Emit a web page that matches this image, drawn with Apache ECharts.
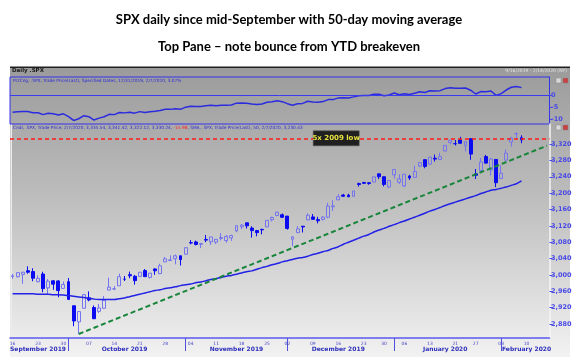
<!DOCTYPE html>
<html><head><meta charset="utf-8">
<script src="https://cdn.jsdelivr.net/npm/echarts@6/dist/echarts.min.js"></script>
<style>html,body{margin:0;padding:0;background:#fff}#c{width:578px;height:361px}</style>
</head><body><div id="c"></div>
<script>
// Trading days shown on the axis (Sep 16 2019 - Feb 14 2020)
const dates = [
'2019-09-16','2019-09-17','2019-09-18','2019-09-19','2019-09-20','2019-09-23','2019-09-24','2019-09-25','2019-09-26','2019-09-27','2019-09-30',
'2019-10-01','2019-10-02','2019-10-03','2019-10-04','2019-10-07','2019-10-08','2019-10-09','2019-10-10','2019-10-11','2019-10-14','2019-10-15','2019-10-16','2019-10-17','2019-10-18','2019-10-21','2019-10-22','2019-10-23','2019-10-24','2019-10-25','2019-10-28','2019-10-29','2019-10-30','2019-10-31',
'2019-11-01','2019-11-04','2019-11-05','2019-11-06','2019-11-07','2019-11-08','2019-11-11','2019-11-12','2019-11-13','2019-11-14','2019-11-15','2019-11-18','2019-11-19','2019-11-20','2019-11-21','2019-11-22','2019-11-25','2019-11-26','2019-11-27','2019-11-29',
'2019-12-02','2019-12-03','2019-12-04','2019-12-05','2019-12-06','2019-12-09','2019-12-10','2019-12-11','2019-12-12','2019-12-13','2019-12-16','2019-12-17','2019-12-18','2019-12-19','2019-12-20','2019-12-23','2019-12-24','2019-12-26','2019-12-27','2019-12-30','2019-12-31',
'2020-01-02','2020-01-03','2020-01-06','2020-01-07','2020-01-08','2020-01-09','2020-01-10','2020-01-13','2020-01-14','2020-01-15','2020-01-16','2020-01-17','2020-01-21','2020-01-22','2020-01-23','2020-01-24','2020-01-27','2020-01-28','2020-01-29','2020-01-30','2020-01-31',
'2020-02-03','2020-02-04','2020-02-05','2020-02-06','2020-02-07','2020-02-10','2020-02-11','2020-02-12','2020-02-13','2020-02-14'];

const opens = [2996.4,2995.7,3001.5,3010.4,3008.4,2983.5,3002.4,2968.4,2985.7,2985.5,2967.1,
2983.7,2924.8,2885.4,2918.6,2944.2,2920.4,2911.1,2918.6,2963.1,2965.8,2973.6,2989.7,3000.8,2996.8,2996.5,3010.7,2994.0,3014.8,3003.3,3032.1,3035.4,3039.7,3046.9,
3050.7,3079.0,3080.8,3075.1,3087.0,3081.3,3080.3,3089.3,3084.2,3090.8,3107.9,3117.9,3127.5,3114.7,3108.5,3111.4,3117.4,3134.9,3145.5,3147.2,
3143.9,3087.4,3103.5,3119.2,3134.6,3141.9,3135.4,3135.8,3141.2,3166.7,3183.6,3195.4,3195.2,3192.3,3223.3,3226.1,3225.5,3227.2,3247.2,3240.1,3215.2,
3244.7,3226.4,3217.6,3241.9,3238.6,3266.0,3281.8,3271.1,3285.4,3282.3,3303.0,3323.7,3321.0,3330.0,3315.8,3333.1,3247.2,3255.4,3289.5,3256.5,3282.3,
3235.7,3280.6,3324.9,3344.9,3335.5];
const highs = [3002.2,3006.2,3007.8,3021.2,3016.4,2999.2,3008.0,2989.8,2987.3,2987.3,2983.9,
2992.5,2924.8,2911.1,2953.7,2959.8,2925.5,2929.3,2948.5,2993.3,2972.8,3003.3,2997.5,3008.3,3000.0,3007.3,3014.6,3004.8,3016.1,3027.4,3044.1,3047.9,3050.1,3046.9,
3067.0,3085.2,3084.0,3078.3,3097.8,3093.1,3088.3,3102.6,3098.1,3098.2,3120.5,3124.2,3127.6,3119.0,3110.1,3112.9,3133.8,3142.7,3154.3,3150.3,
3144.3,3095.0,3119.4,3119.5,3150.6,3148.9,3142.1,3144.0,3176.3,3182.7,3197.7,3198.2,3198.5,3205.5,3225.7,3227.8,3226.4,3240.1,3247.9,3240.9,3231.7,
3258.1,3246.2,3246.8,3244.9,3267.1,3275.6,3283.0,3288.1,3294.3,3298.7,3317.1,3329.9,3329.8,3337.8,3326.9,3333.2,3258.9,3285.8,3293.5,3285.9,3282.3,
3268.4,3306.9,3337.6,3348.0,3341.4];
const lows = [2990.7,2993.7,2978.6,3003.2,2984.7,2982.2,2957.7,2952.9,2963.7,2945.5,2967.1,
2938.7,2874.9,2855.9,2918.6,2935.7,2892.7,2907.4,2917.1,2963.1,2962.9,2973.6,2985.2,2991.8,2976.3,2995.4,2995.0,2991.2,3000.4,3001.9,3032.1,3034.8,3026.0,3023.2,
3050.7,3074.9,3072.2,3065.9,3080.2,3073.6,3075.8,3084.7,3078.8,3083.3,3104.6,3112.1,3113.5,3091.4,3094.6,3099.3,3117.4,3131.0,3143.4,3139.3,
3110.8,3070.3,3102.5,3103.8,3134.6,3135.5,3126.1,3133.2,3138.5,3156.5,3183.6,3191.0,3191.1,3191.7,3216.0,3222.3,3220.5,3227.2,3234.4,3216.6,3212.0,
3235.5,3222.3,3214.6,3232.4,3236.7,3263.7,3260.9,3268.4,3277.2,3280.7,3302.8,3318.9,3316.6,3320.0,3301.9,3281.5,3234.5,3253.2,3271.9,3242.8,3214.7,
3235.7,3280.6,3313.8,3334.4,3322.1];
const closes = [2998.0,3005.7,3006.7,3006.8,2992.1,2991.8,2966.6,2984.9,2977.6,2961.8,2976.7,
2940.3,2887.6,2910.6,2952.0,2938.8,2893.1,2919.4,2938.1,2970.3,2966.2,2995.7,2989.7,2998.0,2986.2,3006.7,2996.0,3004.5,3010.3,3022.6,3039.4,3036.9,3046.8,3037.6,
3066.9,3078.3,3074.6,3076.8,3085.2,3093.1,3087.0,3091.8,3094.0,3096.6,3120.5,3122.0,3120.2,3108.5,3103.5,3110.3,3133.6,3140.5,3153.6,3141.0,
3113.9,3093.2,3112.8,3117.4,3145.9,3136.0,3132.5,3141.6,3168.6,3168.8,3191.5,3192.5,3191.1,3205.4,3221.2,3224.0,3223.4,3239.9,3240.0,3221.3,3230.8,
3257.9,3234.9,3246.3,3237.2,3253.1,3274.7,3265.4,3288.1,3283.2,3289.3,3316.8,3329.6,3320.8,3321.8,3325.5,3295.5,3243.6,3276.2,3273.4,3283.7,3225.5,
3248.9,3297.6,3334.7,3345.8,3330.2];

// 50-day simple moving average
const ma50 = [2954,2954,2954,2954,2954,2953,2953,2953,2952,2952,2951,
2950,2948,2946,2945,2943,2941,2940,2940,2940,2940,2942,2944,2947,2950,2953,2956,2959,2962,2964,2967,2969,2971,2974,
2976,2978,2981,2983,2986,2989,2991,2994,2997,2999,3002,3005,3008,3010,3014,3018,3021,3025,3028,3032,
3035,3038,3041,3043,3046,3050,3053,3057,3060,3065,3069,3075,3080,3085,3090,3095,3099,3105,3110,3114,3119,
3123,3128,3132,3137,3141,3146,3151,3156,3160,3165,3170,3174,3178,3182,3186,3190,3194,3199,3203,3207,3209,
3212,3215,3219,3223,3230];

// Percent change vs 12/31/2019 close (top pane)
const pctChg = [-7.21,-6.97,-6.93,-6.93,-7.39,-7.40,-8.18,-7.61,-7.84,-8.33,-7.86,
-8.99,-10.62,-9.91,-8.63,-9.04,-10.45,-9.64,-9.06,-8.06,-8.19,-7.28,-7.46,-7.21,-7.57,-6.94,-7.27,-7.00,-6.82,-6.45,-5.92,-6.00,-5.70,-5.98,
-5.07,-4.72,-4.83,-4.77,-4.51,-4.26,-4.45,-4.30,-4.23,-4.15,-3.41,-3.37,-3.42,-3.79,-3.94,-3.73,-3.01,-2.79,-2.39,-2.78,
-3.62,-4.26,-3.65,-3.51,-2.63,-2.93,-3.04,-2.76,-1.93,-1.92,-1.22,-1.18,-1.23,-0.79,-0.30,-0.21,-0.23,0.28,0.29,-0.29,0.00,
0.84,0.13,0.48,0.20,0.69,1.36,1.07,1.78,1.62,1.81,2.66,3.06,2.79,2.82,2.93,2.00,0.40,1.41,1.32,1.64,-0.16,
0.56,2.07,3.22,3.56,3.07];

const priceTicks = [2880,2920,2960,3000,3040,3080,3120,3160,3200,3240,3280,3320];
const pctTicks = [-10,-5,0];
const weekStarts = ['2019-09-16','2019-09-23','2019-09-30','2019-10-07','2019-10-14','2019-10-21','2019-10-28','2019-11-04','2019-11-11','2019-11-18','2019-11-25','2019-12-02','2019-12-09','2019-12-16','2019-12-23','2019-12-30','2020-01-06','2020-01-13','2020-01-21','2020-01-27','2020-02-03','2020-02-10'];
const monthStarts = ['2019-10-01','2019-11-01','2019-12-02','2020-01-02','2020-02-03'];
const monthMids = ['2019-09-23','2019-10-16','2019-11-15','2019-12-16','2020-01-16','2020-02-10'];
const monthNames = ['September 2019','October 2019','November 2019','December 2019','January 2020','February 2020'];
const fiveX2009Low = 3333.95;
const fiveXLabelAt = '2019-12-13';
const trendPoints = [['2019-10-03',2855.9],['2020-02-14',3316]];

const candleData = opens.map((o,i)=>[o,closes[i],lows[i],highs[i]]);

const BLUE = '#2b2be0';
const AX = '#4a4ae6';
const chart = echarts.init(document.getElementById('c'), null, {renderer:'canvas'});
chart.setOption({
  animation:false,
  backgroundColor:'#ffffff',
  title:[
    {text:'SPX daily since mid-September with 50-day moving average', left:'center', top:13, padding:0,
     textStyle:{fontFamily:'Lato', fontWeight:'bold', fontSize:13, color:'#000'}},
    {text:'Top Pane \u2013 note bounce from YTD breakeven', left:'center', top:40, padding:0,
     textStyle:{fontFamily:'Lato', fontWeight:'bold', fontSize:13, color:'#000'}}
  ],
  graphic:[
    {type:'rect', z:-10, shape:{x:10,y:67,width:560,height:290},
     style:{fill:new echarts.graphic.LinearGradient(0,0,0,1,[{offset:0,color:'#9b9b9b'},{offset:0.45,color:'#bdbdbd'},{offset:1,color:'#f2f2f2'}])}},
    {type:'rect', z:-9, shape:{x:10,y:66.5,width:560,height:1.5}, style:{fill:'#202020'}},
    {type:'rect', z:-9, shape:{x:10.5,y:124,width:1.5,height:214}, style:{fill:'#ececec'}},
    {type:'text', x:12, y:70.5, style:{text:'Daily .SPX', fontSize:5.5, fontWeight:'bold', fontFamily:'DejaVu Sans', fill:'#1a1a1a', verticalAlign:'middle'}},
    {type:'text', x:567, y:71, style:{text:'9/16/2019 - 2/14/2020 (NY)', fontSize:4.5, fontFamily:'DejaVu Sans', fill:'#e4e4e4', align:'right', verticalAlign:'middle'}},
    {type:'text', x:13, y:80.5, style:{text:'PctCng, .SPX, Trade Price(Last), Specified Dates, 12/31/2019, 2/7/2020, 3.07%', fontSize:4.3, fontFamily:'DejaVu Sans', fill:'#2a2ad8', verticalAlign:'middle'}},
    {type:'text', x:13, y:127.5, style:{text:'{b|Cndl, .SPX, Trade Price, 2/7/2020, 3,335.54, 3,341.42, 3,322.12, 3,330.24, }{r|-15.98}{b|, SMA, .SPX, Trade Price(Last), 50, 2/7/2020, 3,230.43}',
      verticalAlign:'middle', rich:{b:{fontSize:4.3, fontFamily:'DejaVu Sans', fill:'#2a2ad8'}, r:{fontSize:4.3, fontFamily:'DejaVu Sans', fill:'#ff2020'}}}},
    {type:'rect', shape:{x:556,y:78,width:5,height:5}, style:{fill:'#d8d8d8', stroke:'#888', lineWidth:0.5}},
    {type:'rect', shape:{x:563,y:78,width:5,height:5}, style:{fill:'#c84040', stroke:'#888', lineWidth:0.5}},
    {type:'rect', shape:{x:556,y:125,width:5,height:5}, style:{fill:'#d8d8d8', stroke:'#888', lineWidth:0.5}},
    {type:'rect', shape:{x:563,y:125,width:5,height:5}, style:{fill:'#c84040', stroke:'#888', lineWidth:0.5}}
  ],
  grid:[
    {left:10, right:28.5, top:77, height:47, show:true, borderColor:'#3434ec', borderWidth:1, backgroundColor:'transparent'},
    {left:10, right:28.5, top:124, height:214, show:false}
  ],
  xAxis:[
    {type:'category', gridIndex:0, data:dates, show:false, boundaryGap:true},
    {type:'category', gridIndex:1, data:dates, boundaryGap:true,
     axisLine:{show:true, lineStyle:{color:'#5a5af0', width:1.5}},
     axisTick:{show:false},
     axisLabel:{interval:(i,v)=>weekStarts.includes(v), formatter:v=>v.slice(8), fontSize:4.5, fontFamily:'DejaVu Sans', color:'#4646c8', margin:3}},
    {type:'category', gridIndex:1, data:dates, boundaryGap:true, position:'bottom',
     axisLine:{show:false},
     axisTick:{show:true, alignWithLabel:true, interval:(i,v)=>monthStarts.includes(v), length:13, lineStyle:{color:'#5050d8', width:1}},
     axisLabel:{interval:(i,v)=>monthMids.includes(v), formatter:v=>monthNames[monthMids.indexOf(v)], fontSize:6, fontWeight:'bold', fontFamily:'DejaVu Sans', color:'#2d2dbb', margin:8}}
  ],
  yAxis:[
    {type:'value', gridIndex:0, position:'right', min:-12.1, max:7.5, scale:true,
     splitLine:{show:false},
     axisLine:{show:true, lineStyle:{color:'#3434ec'}},
     axisTick:{show:true, length:3, customValues:pctTicks, lineStyle:{color:AX}},
     axisLabel:{customValues:pctTicks, fontSize:6.5, fontWeight:'bold', fontFamily:'DejaVu Sans', color:AX, margin:1.5}},
    {type:'value', gridIndex:1, position:'right', min:2846, max:3369, scale:true,
     splitLine:{show:false},
     axisLine:{show:true, lineStyle:{color:'#f4f4f4', width:1.5}},
     axisTick:{show:true, length:3, customValues:priceTicks, lineStyle:{color:AX}},
     axisLabel:{customValues:priceTicks, formatter:v=>v.toLocaleString('en-US'), fontSize:6.5, fontWeight:'bold', fontFamily:'DejaVu Sans', color:AX, margin:1.5}}
  ],
  series:[
    {name:'PctChg', type:'line', xAxisIndex:0, yAxisIndex:0, data:pctChg, symbol:'none',
     lineStyle:{color:BLUE, width:1.5},
     markLine:{silent:true, symbol:'none', label:{show:false}, lineStyle:{color:'#3a3af0', width:1, type:'solid', opacity:1}, data:[{yAxis:0, lineStyle:{color:'#3a3af0'}}]}},
    {name:'SPX', type:'candlestick', xAxisIndex:1, yAxisIndex:1, data:candleData, barWidth:3.4,
     itemStyle:{color:'rgba(0,0,0,0)', color0:'#0b0bf2', borderColor:'#7474ee', borderColor0:'#0b0bf2', borderWidth:1}},
    {name:'SMA50', type:'line', xAxisIndex:1, yAxisIndex:1, data:ma50, symbol:'none', smooth:0.3,
     lineStyle:{color:'#2222e6', width:1.5}},
    {name:'Trend', type:'line', xAxisIndex:1, yAxisIndex:1, data:trendPoints, symbol:'none',
     lineStyle:{color:'#17853a', width:2, type:[5,3]}},
    {name:'5x2009', type:'line', xAxisIndex:1, yAxisIndex:1, data:[], symbol:'none',
     markLine:{silent:true, symbol:'none', label:{show:false}, lineStyle:{color:'#ff1a1a', width:1.5, type:[4,3]}, data:[{yAxis:fiveX2009Low}]},
     markPoint:{silent:true, symbol:'rect', symbolSize:[46,15], symbolOffset:[3,0],
       itemStyle:{color:'#1f1f1f', borderColor:'#555', borderWidth:0.5},
       label:{show:true, formatter:'5x 2009 low', color:'#e6e040', fontSize:7, fontWeight:'bold', fontFamily:'DejaVu Sans'},
       data:[{coord:[fiveXLabelAt, fiveX2009Low]}]}}
  ]
});
</script></body></html>
